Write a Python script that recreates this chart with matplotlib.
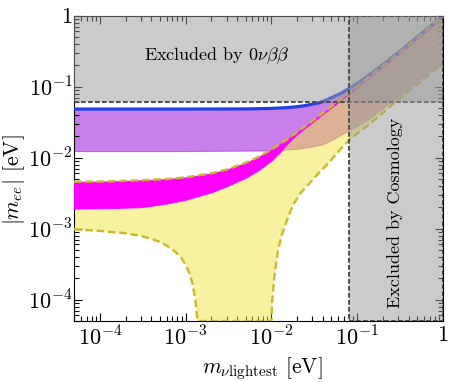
import numpy as np
import matplotlib
matplotlib.use('Agg')
import matplotlib.pyplot as plt
from matplotlib.patches import Rectangle
from matplotlib.ticker import LogLocator, FuncFormatter, NullFormatter

plt.rcParams.update({'font.family': 'serif', 'font.serif': ['cmr10'],
                     'mathtext.fontset': 'cm', 'axes.unicode_minus': False,
                     'axes.formatter.use_mathtext': True})

# ---- values (eV) ----
# normal ordering, upper edge (also top of the magenta band)
no_hi_x = [5e-5, 1e-4, 3e-4, 6e-4, 1e-3, 2e-3, 3e-3, 5e-3, 7e-3, 1e-2, 1.25e-2, 1.5e-2,
           2e-2, 3e-2, 4e-2, 6e-2, 8e-2, 0.15, 0.3, 0.55, 1.0]
no_hi = [4.59e-3, 4.6e-3, 4.8e-3, 5.0e-3, 5.28e-3, 6.02e-3, 6.8e-3, 8.46e-3, 1.02e-2,
         1.3e-2, 1.56e-2, 1.79e-2, 2.3e-2, 3.3e-2, 4.3e-2, 6.2e-2, 8.14e-2, 0.151, 0.29,
         0.535, 0.99]
# magenta band, lower edge (same x as no_hi_x)
mag_lo = [1.92e-3, 1.93e-3, 2.0e-3, 2.25e-3, 2.55e-3, 3.25e-3, 3.95e-3, 5.2e-3, 6.6e-3,
          9.1e-3, 1.19e-2, 1.53e-2, 2.15e-2, 3.15e-2, 4.15e-2, 6.0e-2, 7.9e-2, 0.146, 0.281,
          0.52, 0.96]
# normal ordering, lower edge (0 = full cancellation)
no_lo_x = [5e-5, 1e-4, 2e-4, 3e-4, 4e-4, 5e-4, 6e-4, 7e-4, 8e-4, 9e-4, 1e-3, 1.1e-3,
           1.2e-3, 1.3e-3, 1.38e-3, 1.45e-3, 9.8e-3, 1.0e-2, 1.02e-2, 1.09e-2, 1.19e-2,
           1.3e-2, 1.42e-2, 1.6e-2, 1.8e-2, 2.2e-2, 2.8e-2, 3.5e-2, 4.4e-2, 5.5e-2,
           6.5e-2, 8e-2, 0.1, 0.133, 0.2, 0.273, 0.4, 0.511, 0.7, 1.0]
no_lo = [9.8e-4, 9.3e-4, 8.6e-4, 7.9e-4, 7.2e-4, 6.5e-4, 5.8e-4, 5.1e-4, 4.45e-4, 3.8e-4,
         3.1e-4, 2.4e-4, 1.7e-4, 1.0e-4, 5e-5, 0, 0, 5e-5, 9.5e-5, 2.3e-4, 4.85e-4,
         7.6e-4, 1.05e-3, 1.55e-3, 2.2e-3, 3.2e-3, 4.4e-3, 5.95e-3, 7.9e-3, 1.07e-2,
         1.35e-2, 1.76e-2, 2.2e-2, 2.84e-2, 4.3e-2, 5.95e-2, 8.7e-2, 0.11, 0.15, 0.212]
# inverted ordering, upper edge (blue line) and lower edge
io_hi_x = [5e-5, 1e-3, 5e-3, 1e-2, 1.5e-2, 2e-2, 2.5e-2, 3e-2, 3.64e-2, 4.5e-2, 5.45e-2,
           6.5e-2, 8e-2, 0.1, 0.133, 0.2, 0.3, 0.5, 1.0]
io_hi = [0.0484, 0.0484, 0.0486, 0.0494, 0.0506, 0.0523, 0.0543, 0.0569, 0.0595, 0.066,
         0.0735, 0.081, 0.0936, 0.111, 0.142, 0.205, 0.302, 0.5, 1.0]
io_lo_x = [5e-5, 1e-3, 1e-2, 2e-2, 3e-2, 4e-2, 5e-2, 6e-2, 8e-2, 0.1, 0.133, 0.2,
           0.273, 0.4, 0.511, 0.7, 1.0]
io_lo = [0.0122, 0.0122, 0.01244, 0.0131, 0.0141, 0.0152, 0.0172, 0.0195, 0.0238, 0.0273,
         0.0335, 0.049, 0.066, 0.095, 0.12, 0.163, 0.224]

# exclusion limits
bb_limit = 0.061      # 0nubb bound on |m_ee|
cosmo_limit = 0.08    # cosmology bound on m_lightest
xmin, xmax = 5e-5, 1.0
ymin, ymax = 5e-5, 1.0

fig = plt.figure(figsize=(4.63, 3.82), dpi=100)
ax = fig.add_axes([0.1598, 0.1597, 0.797, 0.7992])
ax.set_xscale('log')
ax.set_yscale('log')

# inverted ordering band
ax.fill(np.r_[io_hi_x, io_lo_x[::-1]], np.r_[io_hi, io_lo[::-1]],
        facecolor=(0.58, 0.0, 0.83, 0.5), edgecolor='none', zorder=1)
ax.plot(io_lo_x, io_lo, color=(0.6, 0.2, 0.75), lw=0.8, alpha=0.6, zorder=1.1)

# normal ordering band (yellow, see-through)
no_lo_c = np.maximum(no_lo, ymin)
ax.fill(np.r_[no_hi_x, no_lo_x[::-1]], np.r_[no_hi, no_lo_c[::-1]],
        facecolor=(0.94, 0.894, 0.26, 0.5), edgecolor='none', zorder=2)

# magenta band
ax.fill_between(no_hi_x, mag_lo, no_hi, facecolor='magenta', edgecolor='magenta',
                lw=0.6, zorder=3)

# blue line on top of the IO band
ax.plot(io_hi_x, io_hi, color=(0.13, 0.25, 0.9), lw=2.3, zorder=3.5)

# dashed edges of the NO band
dash = (0, (3.2, 1.6))
ax.plot(no_hi_x, no_hi, color='#c8bc28', lw=1.7, ls=dash, zorder=3.6)
ax.plot(no_lo_x, no_lo_c, color='#c8bc28', lw=1.7, ls=dash, zorder=3.6)

# excluded regions
gray = (0.6, 0.6, 0.6, 0.5)
for x0, y0 in [(xmin, bb_limit), (cosmo_limit, ymin)]:
    ax.add_patch(Rectangle((x0, y0), xmax - x0, ymax - y0, facecolor=gray,
                           edgecolor='0.3', lw=1.4, ls=(0, (2.4, 1.2)), zorder=4))

ax.text(0.387, 0.868, r'Excluded by $0\nu\beta\beta$', transform=ax.transAxes,
        ha='center', va='center', fontsize=13, zorder=5)
ax.text(0.871, 0.354, 'Excluded by Cosmology', transform=ax.transAxes,
        ha='center', va='center', rotation=90, fontsize=13, zorder=5)

ax.set_xlim(xmin, xmax)
ax.set_ylim(ymin, ymax)


def fmt(v, pos):
    if np.isclose(v, 1.0):
        return r'$1$'
    return r'$10^{%d}$' % int(round(np.log10(v)))


for axis in (ax.xaxis, ax.yaxis):
    axis.set_major_locator(LogLocator(base=10, numticks=10))
    axis.set_minor_locator(LogLocator(base=10, subs=np.arange(2, 10), numticks=20))
    axis.set_major_formatter(FuncFormatter(fmt))
    axis.set_minor_formatter(NullFormatter())

ax.tick_params(which='both', direction='in', top=True, right=True, width=0.8)
ax.tick_params(which='major', length=6, labelsize=16)
ax.tick_params(which='minor', length=3.5)
ax.tick_params(axis='y', pad=1)

ax.set_xlabel(r'$m_{\nu\mathrm{lightest}}$ [eV]', fontsize=15.5)
ax.set_ylabel(r'$|m_{ee}|$ [eV]', fontsize=15.5)
ax.xaxis.set_label_coords(0.51, -0.112)
ax.yaxis.set_label_coords(-0.127, 0.462)

fig.savefig('out.png', dpi=100)
